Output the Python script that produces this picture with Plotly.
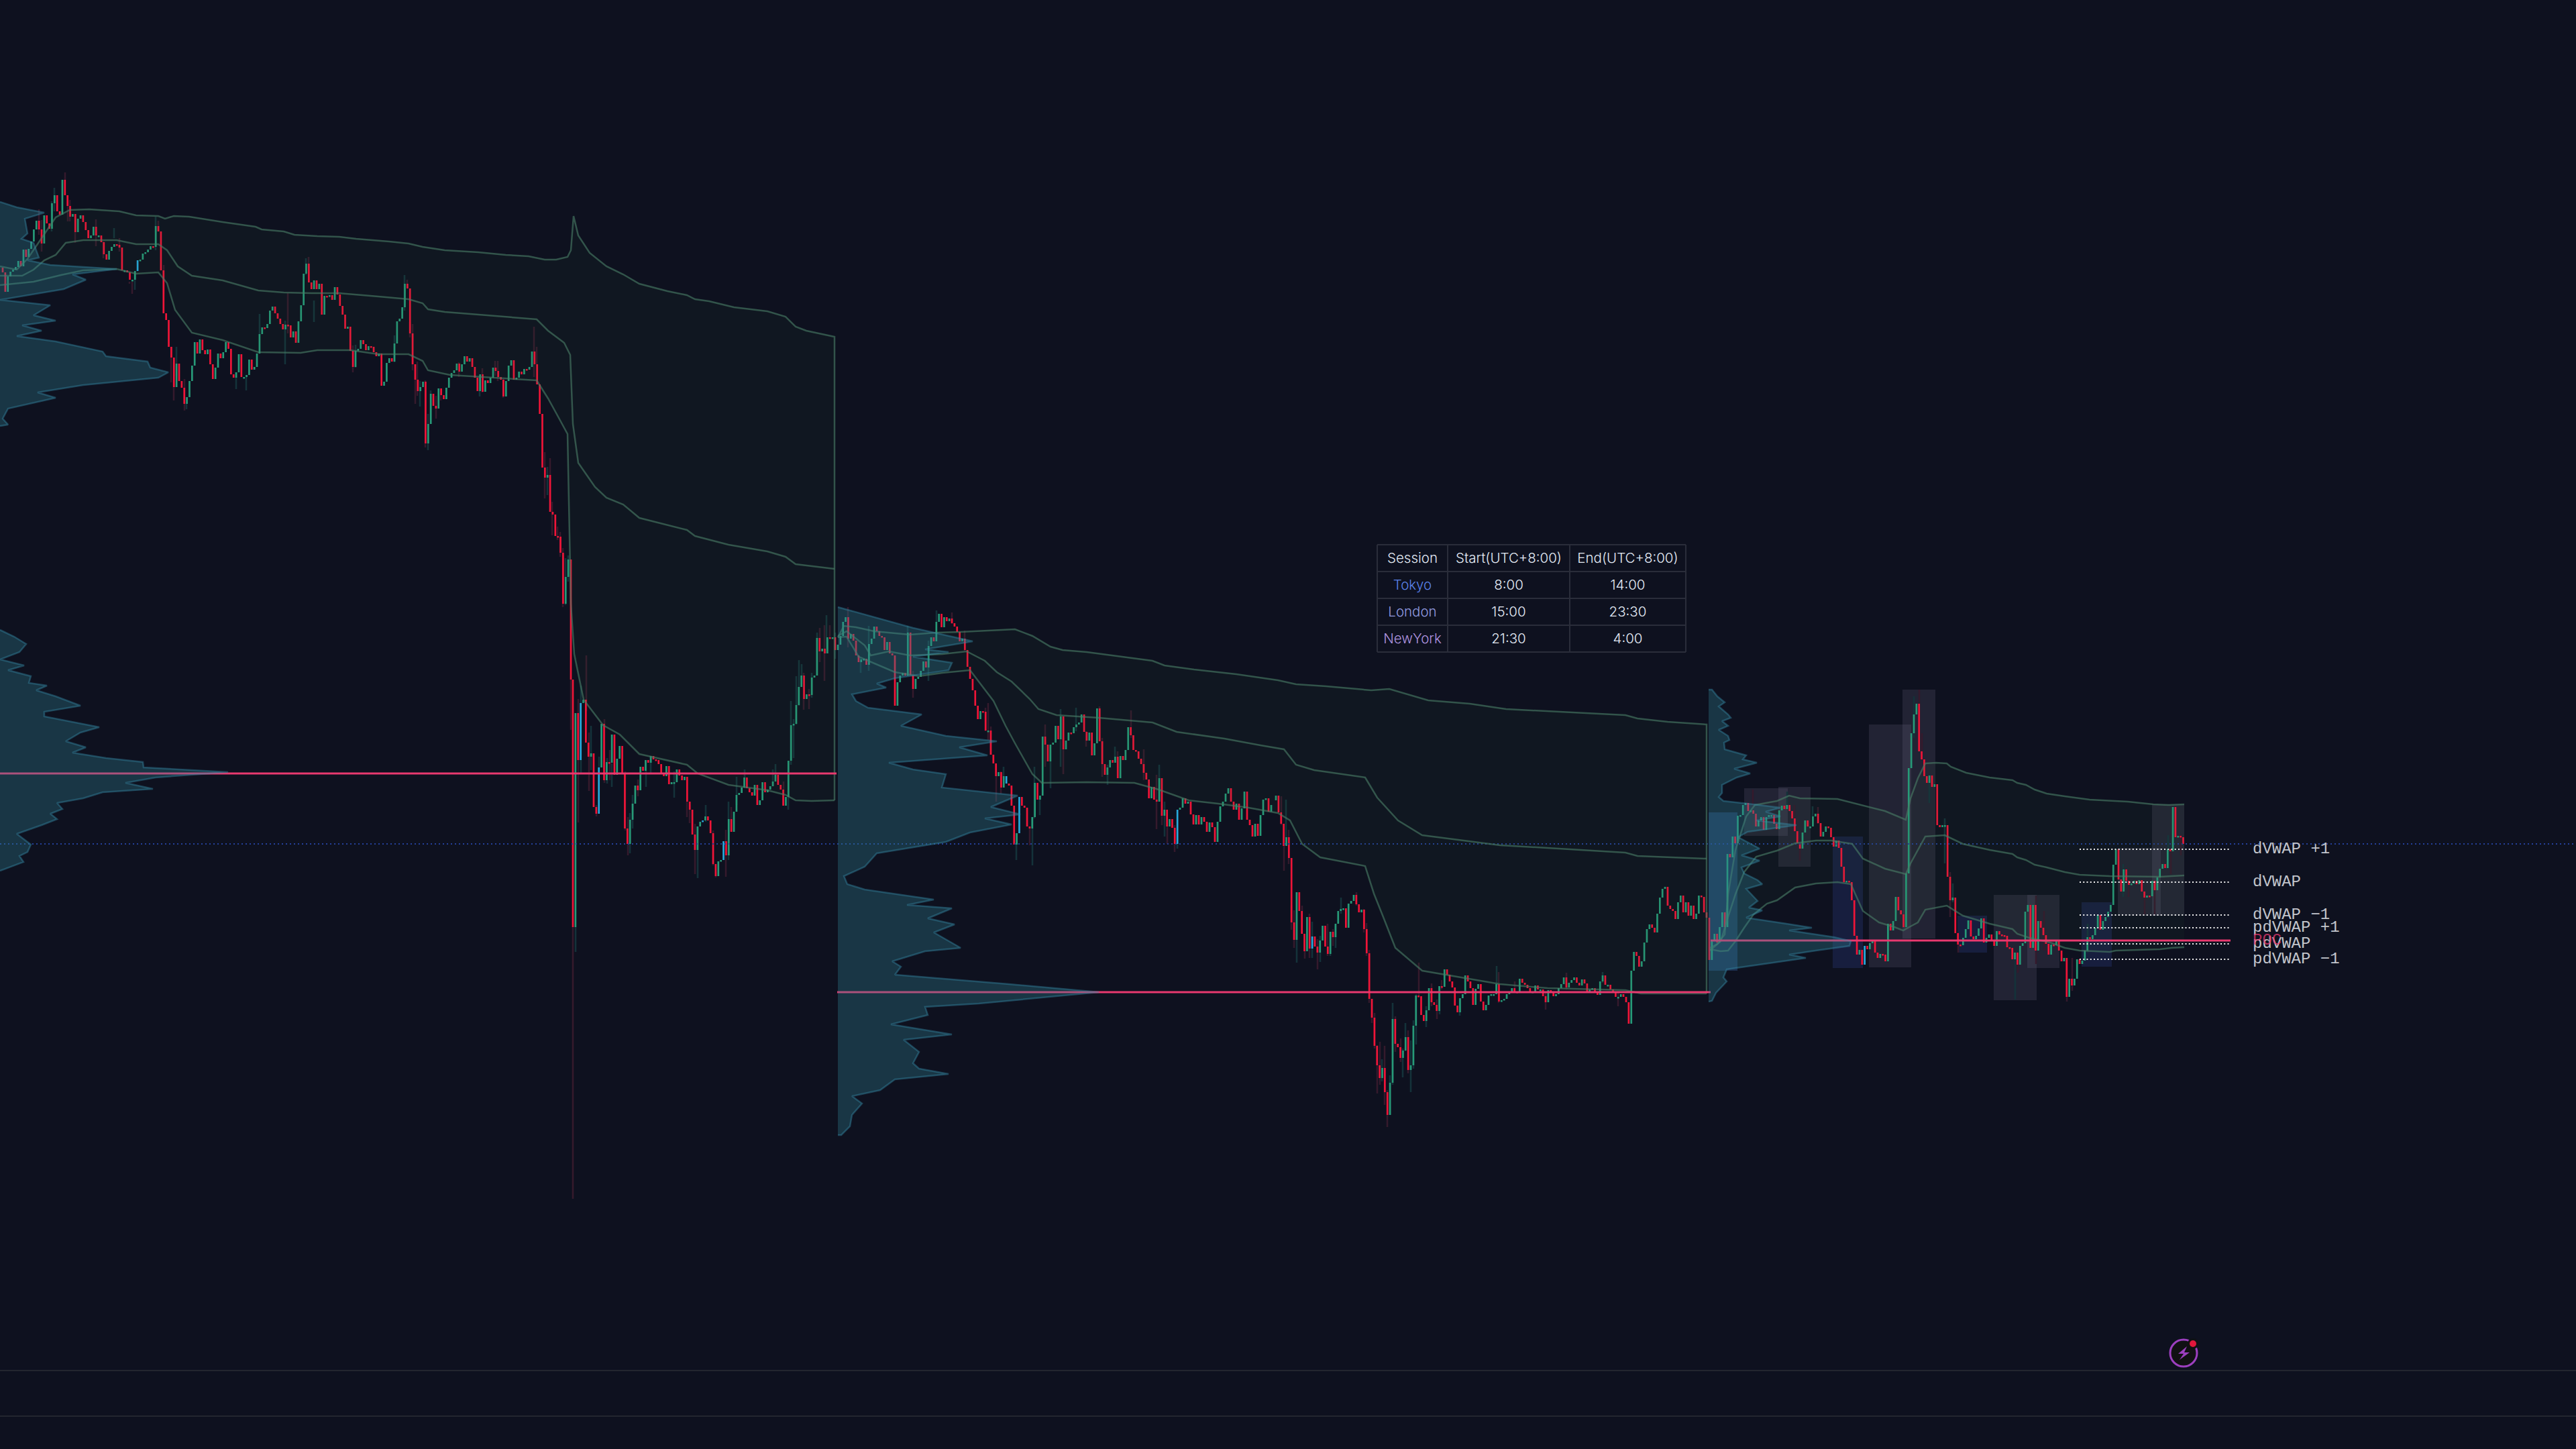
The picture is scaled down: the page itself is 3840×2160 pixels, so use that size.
import plotly.graph_objects as go

# ---------- candle closes (vertical chart units, axis reversed), grouped by run ----------
RUNS = [
 (4, 851, 399, [406,435,412,405,402,398,389,397,372,383,371,360,342,329,342,363,321,333,341,303,291,315,320,268,291,307,323,319,346,326,321,331,343,355,351,338,351,351,361,379,387,374,368,364,365,369,403,403,406,417,417,404,388,387,378,376,372,367,368,337,345,403,467,477,517,533,577,542,568,578,602,592,568,545,510,527,506,522,528,521,543,565,548,527,534,525,510,520,558,563,555,528,562,562,559,536,551,547,527,498,488,489,483,463,457,467,475,483,491,484,485,503,494,511,479,455,408,393,421,431,418,431,423,469,441,442,440,447,428,439,456,469,490,487,
   523,547,523,520,507,513,522,516,517,525,531,527,575,569,541,534,539,512,479,475,458,423,430,497,543,566,583,577,569,661,632,587,605,609,579,589,595,578,563,556,552,542,554,543,531,539,534,547,563,583,558,584,567,571,563,548,553,562,566,591,568,545,537,566,563,554,558,550,551,547,524,543,573,617,697,712,708,763,767,799,800,824,900,860,834,1013]),
 (854, 1245, 1013, [1382,1063,1133,1048,1043,1107,1128,1123,1203,1213,1144,1079,1163,1136,1137,1095,1155,1131,1112,1152,1235,1258,1222,1198,1171,1178,1143,1149,1133,1137,1127,1132,1133,1139,1154,1157,1142,1169,1166,1166,1147,1156,1163,1158,1195,1207,1244,1267,1232,1225,1223,1217,1223,1242,1288,1306,1284,1282,1254,1275,1221,1240,1210,1185,1182,1174,1159,1175,1181,1186,1170,1200,1193,1166,1181,1177,1172,1165,1155,1170,1177,1201,1188,1134,1081,1079,1051,1024,1007,1042,1035,1036,1010,1007,951,971,967,974,950,951,950,969]),
 (1249, 1759, 969, [961,948,927,920,952,945,955,977,987,983,982,991,960,952,934,941,948,950,969,957,974,977,1052,1017,1007,1003,1007,943,1007,1027,1012,1009,1000,986,995,963,950,956,927,915,935,920,926,922,929,934,942,956,952,969,994,1012,1029,1052,1072,1060,1061,1089,1089,1125,1138,1157,1151,1174,1157,1168,1171,1201,1259,1242,1188,1201,1204,1232,1235,1218,1167,1192,1186,1098,1110,1135,1110,1107,1082,1102,1068,1117,1104,1092,1093,1084,1080,1077,1065,1091,1104,1092,1126,1108,1056,1105,1139,1155,1144,1133,1137,1128,1160,1127,1133,1118,1084,1096,1118,1120,1131,1139,1152,1162,1190,1173,1192,1195,1160,1216,1207,1232,1221,1234,1258,1207,1204]),
 (1763, 1895, 1204, [1190,1198,1195,1214,1229,1215,1229,1218,1225,1240,1226,1233,1255,1225,1202,1195,1183,1175,1195,1207,1198,1222,1205,1180,1222,1230,1247,1228,1246,1215,1192,1190,1210,1200]),
 (1902, 2420, 1193, [1186,1211,1228,1261,1248,1279,1375,1401,1330,1358,1392,1418,1367,1414,1396,1411,1420,1402,1380,1411,1422,1389,1397,1377,1358,1355,1354,1383,1347,1343,1334,1348,1360,1356,1385,1421,1489,1517,1559,1588,1607,1592,1628,1662,1614,1519,1556,1561,1577,1566,1546,1595,1588,1529,1484,1485,1513,1522,1506,1473,1494,1498,1507,1470,1471,1445,1453,1463,1472,1499,1509,1488,1482,1454,1463,1473,1498,1474,1467,1493,1506,1498,1484,1482,1482,1467,1493,1491,1489,1482,1479,1473,1478,1479,1459,1465,1468,1473,1479,1478,1469,1475,1475,1485,1494,1476,1478,1485,1482,1473,1467,1457,1472,1465,1461,1457,1465,1469,1460,1466,1478,1475,1473,1478,1483,1463,1454,1468,1468,1475,1478,1486,1486,1482,1486]),
 (2424, 2544, 1486, [1494,1526,1447,1419,1425,1441,1433,1405,1385,1378,1383,1390,1362,1338,1325,1322,1350,1355,1358,1370,1345,1335,1360,1345,1365,1350,1370,1362,1335,1337,1360,1368]),
 (2548, 3254.5, 1368, [1431,1403,1392,1405,1382,1360,1382,1273,1278,1247,1257,1216,1215,1200,1197,1209,1208,1213,1232,1223,1218,1237,1218,1215,1215,1228,1236,1208,1201,1206,1200,1209,1220,1239,1257,1265,1241,1223,1232,1232,1217,1213,1227,1247,1240,1232,1234,1248,1262,1253,1264,1292,1315,1313,1315,1342,1395,1423,1416,1438,1410,1415,1406,1402,1420,1428,1422,1423,1433,1377,1387,1373,1337,1357,1363,1382,1302,1145,1093,1065,1049,1120,1132,1157,1167,1156,1173,1169,1230,1233,1230,1230,1307,1342,1338,1391,1408,1409,1398,1385,1372,1396,1400,1395,1384,1369,1405,1398,1393,1402,1410,1388,1393,1394,1395,1412,1413,1430,1420,1438,1410,1406,1359,1349,1413,1349,1417,1373,1383,1394,1407,1423,1408,1409,1403,1417,1433,1428,1486,1459,1469,1459,1430,1437,1432,1417,1397,1400,1394,1383,1364,1386,1373,1367,1359,1349,1289,1266,1311,1329,1296,1313,1319,1317,1313,1318,1312,1329,1338,1335,1336,1313,1327,1308,1295,1288,1294,1266,1269,1203,1248,1246,1248,1258]),
]
CYAN_BARS = [205, 866, 893, 1048, 1079, 1500, 1519, 1755, 1956, 2780]

WICKS_RED = [(97,257,268),(101,300,330),(104,298,330),(112,320,362),(58,312,350),(62,328,375),(236,329,345),(244,395,438),(255,517,570),(259,540,597),(275,565,612),(429,437,497),(143,327,367),(154,360,385),(178,355,375),(193,420,423),(197,420,438),(460,383,400),
 (526,515,555),(607,417,430),(611,480,503),(615,483,552),(619,543,602),(622,539,590),(634,567,667),(650,590,624),(657,579,597),(684,540,562),(719,549,585),(738,538,560),(742,538,568),(750,565,593),(796,487,562),(800,517,573),(812,674,743),(820,683,763),(823,748,798),(831,785,805),(835,793,830),(839,817,905),
 (851,1013,1088),(854,1382,1787),(862,1042,1226),(874,977,1060),(878,1092,1179),(889,1200,1217),(901,1072,1167),(909,1118,1163),(932,1150,1238),(936,1218,1275),(951,1162,1187),(1024,1195,1218),(1028,1200,1227),(1036,1228,1303),(1063,1238,1290),(1067,1300,1308),(1082,1237,1307),(1090,1203,1240),(1168,1165,1201),(1198,1003,1058),(1206,1027,1057),(1222,936,987),(1229,932,1015),(1237,932,950),
 (1264,905,965),(1361,1000,1040),(1419,913,930),(1438,940,970),(1473,1048,1103),(1469,1055,1090),(1477,1083,1125),(1485,1140,1195),(1492,1150,1183),(1535,1233,1260),(1558,1080,1143),(1585,1100,1154),(1619,1090,1113),(1639,1053,1105),(1643,1100,1158),(1666,1120,1160),(1686,1059,1100),(1705,1117,1163),(1724,1155,1236),(1732,1200,1230),(1740,1230,1258),(1751,1230,1270),
 (1910,1187,1230),(1914,1240,1298),(1921,1237,1288),(1925,1350,1386),(1929,1357,1413),(1941,1350,1392),(1945,1400,1429),(1952,1362,1428),(1964,1400,1445),(1979,1377,1425),(1987,1385,1410),(2022,1330,1350),(2033,1355,1390),(2037,1376,1425),(2041,1416,1495),(2045,1489,1525),(2049,1510,1563),(2053,1558,1630),(2057,1553,1617),(2064,1559,1647),(2068,1625,1680),(2080,1515,1568),(2088,1548,1583),(2099,1536,1600),(2115,1435,1485),(2134,1466,1500),(2142,1490,1519),(2149,1461,1475),(2234,1449,1495),(2258,1463,1480),(2304,1480,1505),(2335,1450,1475),(2412,1480,1500),
 (2613,1177,1230),(2675,1200,1240),(2683,1250,1283),(2710,1203,1228),(2861,1028,1120),(2865,1093,1133),(2907,1300,1367),(2919,1390,1420),(3008,1420,1450),(3035,1335,1437),(3047,1358,1417),(3081,1428,1493),(3089,1428,1477),(3197,1337,1363),(3212,1313,1363),(3236,1266,1303),(3251,1245,1275),(3173,1312,1337)]
WICKS_GREEN = [(81,280,315),(77,300,345),(232,323,373),(263,517,560),(278,592,610),(352,555,580),(367,562,582),(387,468,500),(425,478,543),(456,385,410),(468,448,480),(201,405,432),(170,340,355),
 (530,514,548),(588,500,540),(603,410,463),(626,568,606),(638,617,671),(642,582,632),(715,560,591),(816,696,738),(843,832,902),(847,828,867),
 (858,1382,1419),(866,1022,1152),(881,1082,1148),(893,1128,1145),(905,1130,1168),(912,1138,1173),(939,1212,1272),(943,1185,1235),(963,1133,1173),(970,1127,1152),(1005,1150,1189),(1040,1232,1309),(1052,1200,1225),(1086,1195,1282),(1098,1158,1200),(1110,1147,1175),(1152,1147,1170),(1156,1139,1160),(1175,1134,1207),(1179,1045,1140),(1183,1072,1130),(1187,1008,1080),(1191,984,1052),(1195,990,1020),(1210,1003,1040),(1218,943,1007),(1232,917,974),(1245,943,982),
 (1283,980,1003),(1295,933,1000),(1353,933,1008),(1384,955,1015),(1396,910,927),(1496,1143,1160),(1515,1242,1282),(1539,1218,1290),(1542,1143,1220),(1550,1190,1215),(1566,1110,1175),(1581,1057,1143),(1604,1055,1090),(1651,1140,1170),(1662,1113,1135),(1728,1140,1195),(1736,1195,1247),(1755,1240,1265),
 (1917,1192,1250),(1933,1330,1435),(1956,1374,1428),(1968,1395,1434),(1983,1389,1425),(1991,1380,1413),(1999,1338,1362),(2060,1579,1612),(2072,1603,1662),(2076,1495,1617),(2091,1563,1606),(2095,1525,1567),(2103,1551,1628),(2107,1521,1593),(2111,1482,1557),(2126,1500,1531),(2146,1470,1512),(2176,1488,1514),(2231,1440,1482),(2389,1449,1465),
 (2664,1180,1205),(2702,1202,1217),(2853,1038,1100),(2876,1157,1197),(2899,1220,1287),(2911,1317,1345),(3004,1430,1490),(3112,1377,1420),(3165,1288,1337),(3232,1245,1295)]

# ---------- session bands ----------
S1_UP_X=[0,25,41,83,104,133,178,203,236,246,259,282,332,381,390,423,439,473,506,531,580,609,630,663,713,754,788,812,829,846,851,855,862,879,904,929,953,995,1024,1036,1057,1094,1144,1171,1186,1202,1244]
S1_UP_Y=[397,402,386,324,313,312,315,321,322,326,322,323,331,338,342,345,350,352,353,356,360,363,368,373,376,380,382,387,387,383,373,322,351,377,397,409,423,434,440,446,449,458,464,472,487,493,502]
S1_MID_X=[0,33,50,66,83,98,124,174,203,236,249,265,286,332,385,423,464,506,564,609,630,638,663,713,754,800,817,841,850,854,862,887,904,929,953,1024,1036,1086,1144,1171,1186,1244]
S1_MID_Y=[411,411,402,388,380,362,358,358,364,364,373,397,411,418,433,436,437,437,442,446,452,461,465,469,473,476,493,511,529,632,690,726,742,752,772,790,799,812,822,830,841,848]
S1_LO_X=[0,50,91,124,174,203,236,249,261,286,332,385,448,473,522,564,609,630,638,671,800,817,833,846,851,856,870,899,924,953,1024,1040,1086,1144,1171,1186,1210,1244]
S1_LO_Y=[425,420,410,403,401,408,406,422,462,496,507,525,526,522,522,528,528,538,552,559,567,594,623,647,900,975,1043,1081,1095,1124,1140,1153,1170,1178,1185,1193,1194,1193]

S2_UP_X=[1249,1258,1276,1303,1356,1396,1432,1486,1513,1539,1566,1584,1620,1718,1736,1780,1843,1905,1932,1977,2044,2071,2111,2129,2191,2245,2325,2423,2441,2486,2544]
S2_UP_Y=[950,933,935,941,946,943,942,939,938,948,964,969,972,985,992,998,1005,1014,1020,1023,1029,1027,1039,1044,1049,1057,1061,1066,1071,1076,1080]
S2_MID_X=[1249,1262,1289,1298,1325,1356,1405,1441,1468,1486,1508,1535,1548,1575,1638,1718,1754,1825,1879,1914,1932,1959,2035,2053,2084,2120,2182,2236,2307,2423,2441,2486,2544]
S2_MID_Y=[948,941,962,977,971,977,975,971,985,1002,1016,1042,1057,1066,1070,1077,1091,1101,1111,1117,1140,1148,1159,1189,1223,1245,1253,1260,1264,1271,1276,1278,1280]
S2_LO_X=[1249,1262,1280,1334,1370,1405,1446,1459,1481,1499,1513,1539,1553,1620,1691,1727,1772,1816,1861,1905,1923,1941,1968,2035,2048,2062,2080,2120,2182,2236,2307,2423,2446,2544]
S2_LO_Y=[950,949,979,1002,1008,1003,999,1016,1045,1082,1108,1154,1167,1166,1167,1177,1193,1198,1204,1212,1223,1258,1278,1291,1332,1367,1413,1447,1458,1467,1473,1476,1481,1481]

S3_UP_X=[2549,2560,2571,2576,2587,2603,2616,2649,2667,2683,2739,2810,2841,2848,2859,2870,2886,2902,2908,2931,2966,3000,3007,3020,3033,3051,3078,3115,3172,3210,3233,3256]
S3_UP_Y=[1413,1407,1393,1333,1267,1217,1200,1194,1186,1190,1191,1209,1222,1190,1160,1138,1137,1138,1143,1152,1159,1163,1167,1170,1177,1183,1187,1192,1195,1199,1200,1199]
S3_MID_X=[2549,2565,2576,2587,2600,2618,2649,2676,2707,2730,2761,2777,2810,2841,2848,2864,2870,2899,2926,2966,3000,3007,3020,3033,3051,3078,3100,3145,3220,3237,3256]
S3_MID_Y=[1417,1403,1367,1333,1300,1277,1268,1257,1253,1253,1258,1280,1295,1303,1287,1257,1247,1245,1258,1267,1273,1278,1282,1289,1293,1300,1304,1306,1307,1306,1305]
S3_LO_X=[2549,2565,2576,2587,2600,2614,2634,2649,2676,2707,2739,2759,2777,2801,2824,2837,2846,2859,2870,2902,2926,2966,3000,3007,3025,3056,3078,3100,3145,3154,3220,3237,3256]
S3_LO_Y=[1415,1418,1417,1403,1383,1363,1347,1342,1323,1317,1315,1318,1358,1375,1382,1387,1382,1375,1356,1350,1365,1377,1385,1392,1398,1405,1413,1417,1419,1417,1415,1413,1412]

# ---------- volume profiles ----------
P1A_V=[0,25,66,37,41,32,50,58,41,75,174,108,128,95,0,75,50,83,33,62,25,83,153,158,220,224,251,236,124,56,83,12,4,12,0]
P1A_Y=[301,309,317,326,348,356,362,384,388,395,401,409,417,431,447,455,470,478,485,493,501,509,524,531,539,548,555,563,574,585,593,609,624,633,635]
P1B_V=[0,21,39,29,0,36,12,46,43,70,54,83,120,66,66,148,120,98,128,108,158,213,214,340,232,187,228,153,124,85,93,75,85,62,25,46,41,29,35,0]
P1B_Y=[939,949,960,972,983,992,999,1008,1018,1022,1029,1038,1052,1061,1068,1084,1092,1105,1114,1122,1130,1136,1144,1151,1159,1167,1176,1181,1190,1197,1206,1213,1221,1230,1243,1259,1270,1276,1285,1298]
P2_V=[1249,1361,1450,1379,1414,1361,1419,1414,1334,1307,1321,1270,1276,1294,1374,1343,1410,1486,1430,1472,1325,1361,1410,1404,1517,1477,1521,1468,1508,1446,1410,1307,1289,1258,1263,1289,1392,1352,1419,1383,1423,1392,1432,1379,1330,1343,1334,1504,1638,1459,1379,1383,1328,1419,1347,1370,1361,1370,1414,1334,1312,1270,1285,1270,1267,1254,1249]
P2_Y=[905,936,956,968,972,979,988,999,1011,1019,1025,1035,1045,1055,1065,1082,1097,1105,1114,1126,1137,1147,1154,1174,1186,1203,1214,1220,1229,1241,1255,1272,1292,1306,1318,1326,1341,1349,1354,1369,1378,1390,1413,1418,1433,1441,1453,1467,1479,1496,1501,1513,1527,1542,1550,1568,1585,1593,1601,1609,1625,1634,1645,1662,1679,1692,1692]
P3_V=[2547,2552,2560,2571,2562,2576,2580,2567,2576,2562,2576,2578,2570,2571,2603,2598,2619,2585,2609,2589,2567,2567,2562,2569,2614,2654,2632,2654,2618,2678,2605,2591,2623,2596,2623,2596,2600,2620,2627,2603,2620,2607,2627,2603,2663,2701,2667,2734,2759,2757,2707,2667,2692,2574,2569,2574,2558,2552,2547]
P3_Y=[1028,1028,1038,1047,1053,1065,1070,1075,1082,1088,1097,1103,1107,1117,1126,1132,1137,1146,1153,1159,1170,1182,1188,1194,1199,1204,1210,1217,1223,1230,1240,1248,1265,1275,1283,1293,1302,1312,1318,1325,1343,1353,1357,1368,1377,1383,1387,1397,1403,1410,1417,1423,1428,1445,1457,1463,1480,1492,1493]

POC_LEVELS=[(0,1247,1153),(1248,2550,1479),(2550,3325,1402)]

# ---------- order-block boxes ----------
BOX_GRAY=[(2600,2665,1175,1246),(2651,2699,1173,1292),(2786,2849,1080,1442),(2836,2885,1028,1399),(2972,3036,1334,1491),(3022,3070,1334,1443),(3157,3221,1264,1365),(3208,3256,1199,1365)]
BOX_BLUE=[(2732,2777,1247,1443),(2918,2962,1365,1420),(3103,3148,1345,1441)]
BOX_BRIGHT=[(2547,2590,1211,1447)]

# ---------- today's levels ----------
LEVEL_NAMES=["dVWAP +1","dVWAP","dVWAP −1","pdVWAP +1","pdVWAP","pdVWAP −1"]
LEVEL_VALUES=[1266,1315,1364,1383,1407,1430]
LEVEL_START,LEVEL_END,LABEL_X=3100,3325,3358

# ---------- session table ----------
TABLE_HEADER=["Session","Start(UTC+8:00)","End(UTC+8:00)"]
SESSIONS=["Tokyo","London","NewYork"]
STARTS=["8:00","15:00","21:30"]
ENDS=["14:00","23:30","4:00"]
SESSION_COLORS=["#5a82e8","#929be0","#b095e0"]
TABLE_COLS=[2053,2158,2340,2513]
TABLE_ROWS=[812,852,892,932,972]

BG="#0e111f"
RED,GREEN,CYAN="#ef1538","#279a78","#27a9dc"
TEXT="#e3eaf5"

bar_x,bar_top,bar_h,bar_col=[],[],[],[]
for x0,x1,first,closes in RUNS:
    n=len(closes); prev=first
    for i,c in enumerate(closes):
        x=x0+(x1-x0)*i/(n-1)
        col=RED if c>prev else GREEN
        if any(abs(x-k)<2 for k in CYAN_BARS): col=CYAN
        bar_x.append(x); bar_top.append(min(prev,c)); bar_h.append(max(abs(c-prev),2.5)); bar_col.append(col)
        prev=c

fig=go.Figure()
def wick_trace(w,color):
    fig.add_trace(go.Bar(x=[a[0] for a in w],base=[a[1] for a in w],y=[a[2]-a[1] for a in w],width=2.6,marker=dict(color=color,line=dict(width=0))))
wick_trace(WICKS_RED,"#351a2c")
wick_trace(WICKS_GREEN,"#14323a")
fig.add_trace(go.Bar(x=bar_x,base=bar_top,y=bar_h,width=2.7,marker=dict(color=bar_col,line=dict(width=0))))

fig.add_trace(go.Scatter(x=[0,3840],y=[1258,1258],mode="lines",line=dict(color="#24409a",width=2,dash="2px,4px")))

LINE="rgba(72,125,102,0.62)"
FILL="rgba(45,105,70,0.08)"
for up_x,up_y,lo_x,lo_y in [(S1_UP_X,S1_UP_Y,S1_LO_X,S1_LO_Y),(S2_UP_X,S2_UP_Y,S2_LO_X,S2_LO_Y),(S3_UP_X,S3_UP_Y,S3_LO_X,S3_LO_Y)]:
    fig.add_trace(go.Scatter(x=up_x+lo_x[::-1],y=up_y+lo_y[::-1],mode="lines",fill="toself",fillcolor=FILL,line=dict(width=0)))
for xs,ys in [(S1_UP_X+[S1_LO_X[-1]],S1_UP_Y+[S1_LO_Y[-1]]),(S1_MID_X,S1_MID_Y),(S1_LO_X,S1_LO_Y),
              (S2_UP_X+[S2_LO_X[-1]],S2_UP_Y+[S2_LO_Y[-1]]),(S2_MID_X,S2_MID_Y),(S2_LO_X,S2_LO_Y),
              (S3_UP_X,S3_UP_Y),(S3_MID_X,S3_MID_Y),(S3_LO_X,S3_LO_Y)]:
    fig.add_trace(go.Scatter(x=xs,y=ys,mode="lines",line=dict(color=LINE,width=2.5)))

for a,b,y in POC_LEVELS:
    fig.add_trace(go.Scatter(x=[a,b],y=[y,y],mode="lines",line=dict(color="#e8396f",width=3)))

for xs,ys in [(P1A_V,P1A_Y),(P1B_V,P1B_Y),(P2_V,P2_Y),(P3_V,P3_Y)]:
    fig.add_trace(go.Scatter(x=xs,y=ys,mode="lines",fill="toself",fillcolor="rgba(50,130,150,0.33)",line=dict(color="rgba(55,140,170,0.42)",width=2.5)))

for n,v in zip(LEVEL_NAMES,LEVEL_VALUES):
    fig.add_trace(go.Scatter(x=[LEVEL_START,LEVEL_END],y=[v,v],mode="lines",line=dict(color="#f0f0f0",width=2,dash="2px,3.25px")))
fig.add_trace(go.Scatter(x=[LABEL_X]*len(LEVEL_NAMES),y=LEVEL_VALUES,mode="text",text=LEVEL_NAMES,textposition="middle right",
                         textfont=dict(family="Liberation Mono",size=24,color="#c2c5cc")))
fig.add_trace(go.Scatter(x=[LABEL_X],y=[POC_LEVELS[-1][2]],mode="text",text=["POC"],textposition="middle right",
                         textfont=dict(family="Liberation Mono",size=24,color="rgba(232,57,111,0.75)")))

# session table: cell text on a grid drawn through the axes
col_mid=[(TABLE_COLS[i]+TABLE_COLS[i+1])/2 for i in range(3)]
row_mid=[(TABLE_ROWS[i]+TABLE_ROWS[i+1])/2+2 for i in range(4)]
tx,ty,tt,tc=[],[],[],[]
for j,(column,head) in enumerate(zip([SESSIONS,STARTS,ENDS],TABLE_HEADER)):
    for i,val in enumerate([head]+column):
        tx.append(col_mid[j]); ty.append(row_mid[i]); tt.append(val)
        tc.append(SESSION_COLORS[i-1] if (j==0 and i>0) else TEXT)
fig.add_trace(go.Scatter(x=tx,y=ty,mode="text",text=tt,textposition="middle center",
                         textfont=dict(family="Inter",size=20.5,color=tc,weight=300)))

shapes=[]
for y in [2043,2111]:
    shapes.append(dict(type="line",xref="x",yref="y",x0=0,x1=3840,y0=y,y1=y,line=dict(color="#23262f",width=2),layer="below"))
for boxes,col in [(BOX_GRAY,"rgba(113,112,141,0.2)"),(BOX_BLUE,"rgba(60,85,190,0.2)"),(BOX_BRIGHT,"rgba(64,126,206,0.28)")]:
    for a,b,t,u in boxes:
        shapes.append(dict(type="rect",xref="x",yref="y",x0=a,x1=b,y0=t,y1=u,fillcolor=col,line=dict(width=0),layer="below"))
for c in TABLE_COLS:
    shapes.append(dict(type="line",xref="x",yref="y",x0=c,x1=c,y0=TABLE_ROWS[0],y1=TABLE_ROWS[-1],line=dict(color="#2a2d3a",width=2),layer="below"))
for r in TABLE_ROWS:
    shapes.append(dict(type="line",xref="x",yref="y",x0=TABLE_COLS[0],x1=TABLE_COLS[-1],y0=r,y1=r,line=dict(color="#2a2d3a",width=2),layer="below"))
shapes+= [
 dict(type="circle",xref="x",yref="y",x0=3235,x1=3275,y0=1997,y1=2037,fillcolor="#111114",line=dict(color="#9c3fbf",width=3)),
 dict(type="path",xref="x",yref="y",path="M3260 2007 L3247 2018 L3255 2018 L3249 2027 L3264 2016 L3256 2016 Z",fillcolor="#9c3fbf",line=dict(width=0)),
 dict(type="circle",xref="x",yref="y",x0=3261,x1=3277,y0=1995,y1=2011,fillcolor="#111114",line=dict(width=0)),
 dict(type="circle",xref="x",yref="y",x0=3264,x1=3274,y0=1998,y1=2008,fillcolor="#e0173c",line=dict(width=0)),
]

fig.update_layout(width=3840,height=2160,autosize=False,margin=dict(l=0,r=0,t=0,b=0,pad=0),
    paper_bgcolor=BG,plot_bgcolor=BG,showlegend=False,barmode="overlay",shapes=shapes,
    xaxis=dict(range=[0,3840],visible=False,fixedrange=True),
    yaxis=dict(range=[2160,0],visible=False,fixedrange=True))
fig.write_html("out.html",config=dict(displayModeBar=False),
    post_script="document.body.style.margin='0';document.body.style.background='%s';"%BG)
